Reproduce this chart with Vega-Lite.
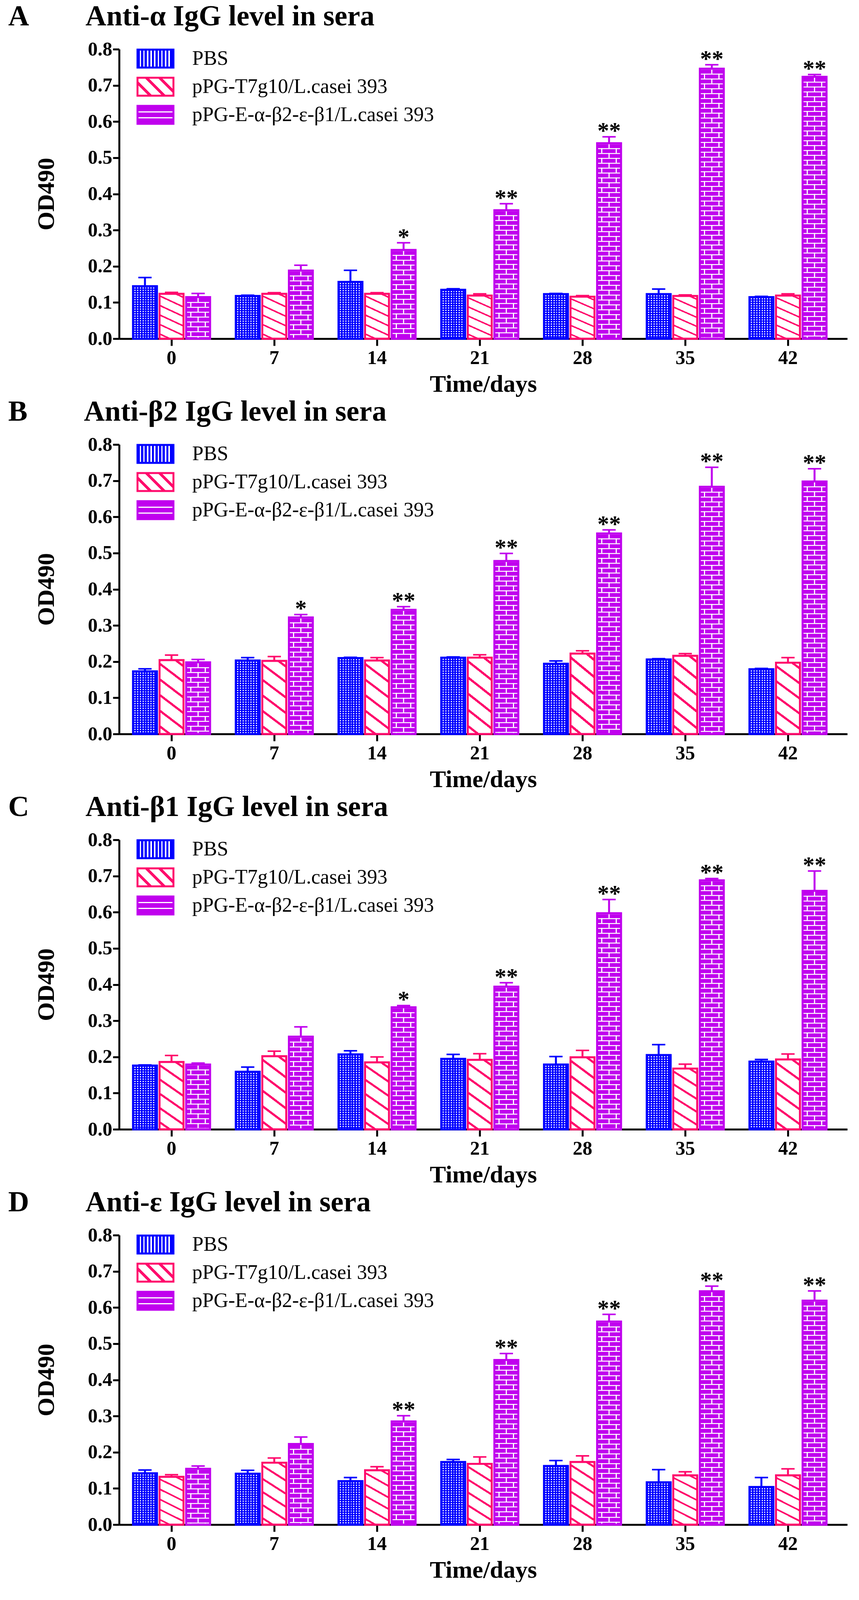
{
  "$schema": "https://vega.github.io/schema/vega-lite/v6.json",
  "background": "white",
  "padding": {"left": 21, "top": 6, "right": 10, "bottom": 0},
  "params": [
    {"name": "gBlue", "expr": "{gradient:'linear',x1:0,y1:0,x2:1,y2:0,stops:[{offset:0,color:'#0000ff'},{offset:0.063,color:'#0000ff'},{offset:0.063,color:'#ffffff'},{offset:0.111,color:'#ffffff'},{offset:0.111,color:'#0000ff'},{offset:0.174,color:'#0000ff'},{offset:0.174,color:'#ffffff'},{offset:0.222,color:'#ffffff'},{offset:0.222,color:'#0000ff'},{offset:0.285,color:'#0000ff'},{offset:0.285,color:'#ffffff'},{offset:0.333,color:'#ffffff'},{offset:0.333,color:'#0000ff'},{offset:0.396,color:'#0000ff'},{offset:0.396,color:'#ffffff'},{offset:0.444,color:'#ffffff'},{offset:0.444,color:'#0000ff'},{offset:0.507,color:'#0000ff'},{offset:0.507,color:'#ffffff'},{offset:0.555,color:'#ffffff'},{offset:0.555,color:'#0000ff'},{offset:0.618,color:'#0000ff'},{offset:0.618,color:'#ffffff'},{offset:0.666,color:'#ffffff'},{offset:0.666,color:'#0000ff'},{offset:0.729,color:'#0000ff'},{offset:0.729,color:'#ffffff'},{offset:0.777,color:'#ffffff'},{offset:0.777,color:'#0000ff'},{offset:0.84,color:'#0000ff'},{offset:0.84,color:'#ffffff'},{offset:0.888,color:'#ffffff'},{offset:0.888,color:'#0000ff'},{offset:0.951,color:'#0000ff'},{offset:0.951,color:'#ffffff'},{offset:1,color:'#ffffff'}]}"},
    {"name": "gRed", "expr": "{gradient:'linear',x1:1,y1:0,x2:0.71,y2:1.175,stops:[{offset:0,color:'#ffffff'},{offset:0.05,color:'#ffffff'},{offset:0.05,color:'#ff0a6c'},{offset:0.08,color:'#ff0a6c'},{offset:0.08,color:'#ffffff'},{offset:0.22,color:'#ffffff'},{offset:0.22,color:'#ff0a6c'},{offset:0.25,color:'#ff0a6c'},{offset:0.25,color:'#ffffff'},{offset:0.39,color:'#ffffff'},{offset:0.39,color:'#ff0a6c'},{offset:0.42,color:'#ff0a6c'},{offset:0.42,color:'#ffffff'},{offset:0.56,color:'#ffffff'},{offset:0.56,color:'#ff0a6c'},{offset:0.59,color:'#ff0a6c'},{offset:0.59,color:'#ffffff'},{offset:0.73,color:'#ffffff'},{offset:0.73,color:'#ff0a6c'},{offset:0.76,color:'#ff0a6c'},{offset:0.76,color:'#ffffff'},{offset:0.9,color:'#ffffff'},{offset:0.9,color:'#ff0a6c'},{offset:0.93,color:'#ff0a6c'},{offset:0.93,color:'#ffffff'},{offset:1,color:'#ffffff'}]}"},
    {"name": "gPurple", "expr": "{gradient:'linear',x1:0,y1:0,x2:1,y2:0,stops:[{offset:0,color:'#c000ee'},{offset:0.17,color:'#c000ee'},{offset:0.17,color:'#ffffff'},{offset:0.22,color:'#ffffff'},{offset:0.22,color:'#c000ee'},{offset:0.78,color:'#c000ee'},{offset:0.78,color:'#ffffff'},{offset:0.83,color:'#ffffff'},{offset:0.83,color:'#c000ee'},{offset:1,color:'#c000ee'}]}"},
    {"name": "gBlueL", "expr": "{gradient:'linear',x1:0,y1:0,x2:1,y2:0,stops:[{offset:0,color:'#0000ff'},{offset:0.06,color:'#0000ff'},{offset:0.06,color:'#ffffff'},{offset:0.1,color:'#ffffff'},{offset:0.1,color:'#0000ff'},{offset:0.16,color:'#0000ff'},{offset:0.16,color:'#ffffff'},{offset:0.2,color:'#ffffff'},{offset:0.2,color:'#0000ff'},{offset:0.26,color:'#0000ff'},{offset:0.26,color:'#ffffff'},{offset:0.3,color:'#ffffff'},{offset:0.3,color:'#0000ff'},{offset:0.36,color:'#0000ff'},{offset:0.36,color:'#ffffff'},{offset:0.4,color:'#ffffff'},{offset:0.4,color:'#0000ff'},{offset:0.46,color:'#0000ff'},{offset:0.46,color:'#ffffff'},{offset:0.5,color:'#ffffff'},{offset:0.5,color:'#0000ff'},{offset:0.56,color:'#0000ff'},{offset:0.56,color:'#ffffff'},{offset:0.6,color:'#ffffff'},{offset:0.6,color:'#0000ff'},{offset:0.66,color:'#0000ff'},{offset:0.66,color:'#ffffff'},{offset:0.7,color:'#ffffff'},{offset:0.7,color:'#0000ff'},{offset:0.76,color:'#0000ff'},{offset:0.76,color:'#ffffff'},{offset:0.8,color:'#ffffff'},{offset:0.8,color:'#0000ff'},{offset:0.86,color:'#0000ff'},{offset:0.86,color:'#ffffff'},{offset:0.9,color:'#ffffff'},{offset:0.9,color:'#0000ff'},{offset:1,color:'#0000ff'}]}"},
    {"name": "gRedL", "expr": "{gradient:'linear',x1:1,y1:0,x2:-0.2,y2:0.6,stops:[{offset:0,color:'#ffffff'},{offset:0.22,color:'#ffffff'},{offset:0.22,color:'#ff0a6c'},{offset:0.29,color:'#ff0a6c'},{offset:0.29,color:'#ffffff'},{offset:0.47,color:'#ffffff'},{offset:0.47,color:'#ff0a6c'},{offset:0.54,color:'#ff0a6c'},{offset:0.54,color:'#ffffff'},{offset:0.72,color:'#ffffff'},{offset:0.72,color:'#ff0a6c'},{offset:0.79,color:'#ff0a6c'},{offset:0.79,color:'#ffffff'},{offset:1,color:'#ffffff'}]}"},
    {"name": "gPurpleL", "expr": "{gradient:'linear',x1:0,y1:0,x2:0,y2:1,stops:[{offset:0,color:'#c000ee'},{offset:0.3,color:'#c000ee'},{offset:0.3,color:'#ffffff'},{offset:0.37,color:'#ffffff'},{offset:0.37,color:'#c000ee'},{offset:0.63,color:'#c000ee'},{offset:0.63,color:'#ffffff'},{offset:0.7,color:'#ffffff'},{offset:0.7,color:'#c000ee'},{offset:1,color:'#c000ee'}]}"}
  ],
  "data": {
    "values": [
      {"p": "A", "day": 0, "group": "PBS", "mean": 0.145, "upper": 0.169},
      {"p": "A", "day": 0, "group": "pPG-T7g10/L.casei 393", "mean": 0.124, "upper": 0.128},
      {"p": "A", "day": 0, "group": "pPG-E-α-β2-ε-β1/L.casei 393", "mean": 0.115, "upper": 0.125},
      {"p": "A", "day": 7, "group": "PBS", "mean": 0.118, "upper": 0.12},
      {"p": "A", "day": 7, "group": "pPG-T7g10/L.casei 393", "mean": 0.124, "upper": 0.127},
      {"p": "A", "day": 7, "group": "pPG-E-α-β2-ε-β1/L.casei 393", "mean": 0.188, "upper": 0.203},
      {"p": "A", "day": 14, "group": "PBS", "mean": 0.157, "upper": 0.189},
      {"p": "A", "day": 14, "group": "pPG-T7g10/L.casei 393", "mean": 0.124, "upper": 0.127},
      {"p": "A", "day": 14, "group": "pPG-E-α-β2-ε-β1/L.casei 393", "mean": 0.245, "upper": 0.265, "star": "*"},
      {"p": "A", "day": 21, "group": "PBS", "mean": 0.135, "upper": 0.138},
      {"p": "A", "day": 21, "group": "pPG-T7g10/L.casei 393", "mean": 0.119, "upper": 0.124},
      {"p": "A", "day": 21, "group": "pPG-E-α-β2-ε-β1/L.casei 393", "mean": 0.355, "upper": 0.373, "star": "**"},
      {"p": "A", "day": 28, "group": "PBS", "mean": 0.123, "upper": 0.125},
      {"p": "A", "day": 28, "group": "pPG-T7g10/L.casei 393", "mean": 0.116, "upper": 0.119},
      {"p": "A", "day": 28, "group": "pPG-E-α-β2-ε-β1/L.casei 393", "mean": 0.54, "upper": 0.558, "star": "**"},
      {"p": "A", "day": 35, "group": "PBS", "mean": 0.123, "upper": 0.137},
      {"p": "A", "day": 35, "group": "pPG-T7g10/L.casei 393", "mean": 0.118, "upper": 0.121},
      {"p": "A", "day": 35, "group": "pPG-E-α-β2-ε-β1/L.casei 393", "mean": 0.746, "upper": 0.757, "star": "**"},
      {"p": "A", "day": 42, "group": "PBS", "mean": 0.115, "upper": 0.117},
      {"p": "A", "day": 42, "group": "pPG-T7g10/L.casei 393", "mean": 0.119, "upper": 0.124},
      {"p": "A", "day": 42, "group": "pPG-E-α-β2-ε-β1/L.casei 393", "mean": 0.724, "upper": 0.73, "star": "**"},
      {"p": "B", "day": 0, "group": "PBS", "mean": 0.173, "upper": 0.18},
      {"p": "B", "day": 0, "group": "pPG-T7g10/L.casei 393", "mean": 0.204, "upper": 0.218},
      {"p": "B", "day": 0, "group": "pPG-E-α-β2-ε-β1/L.casei 393", "mean": 0.198, "upper": 0.206},
      {"p": "B", "day": 7, "group": "PBS", "mean": 0.203, "upper": 0.211},
      {"p": "B", "day": 7, "group": "pPG-T7g10/L.casei 393", "mean": 0.202, "upper": 0.214},
      {"p": "B", "day": 7, "group": "pPG-E-α-β2-ε-β1/L.casei 393", "mean": 0.322, "upper": 0.33, "star": "*"},
      {"p": "B", "day": 14, "group": "PBS", "mean": 0.21, "upper": 0.212},
      {"p": "B", "day": 14, "group": "pPG-T7g10/L.casei 393", "mean": 0.203, "upper": 0.211},
      {"p": "B", "day": 14, "group": "pPG-E-α-β2-ε-β1/L.casei 393", "mean": 0.343, "upper": 0.352, "star": "**"},
      {"p": "B", "day": 21, "group": "PBS", "mean": 0.211, "upper": 0.213},
      {"p": "B", "day": 21, "group": "pPG-T7g10/L.casei 393", "mean": 0.211, "upper": 0.219},
      {"p": "B", "day": 21, "group": "pPG-E-α-β2-ε-β1/L.casei 393", "mean": 0.478, "upper": 0.499, "star": "**"},
      {"p": "B", "day": 28, "group": "PBS", "mean": 0.194, "upper": 0.202},
      {"p": "B", "day": 28, "group": "pPG-T7g10/L.casei 393", "mean": 0.222, "upper": 0.23},
      {"p": "B", "day": 28, "group": "pPG-E-α-β2-ε-β1/L.casei 393", "mean": 0.554, "upper": 0.564, "star": "**"},
      {"p": "B", "day": 35, "group": "PBS", "mean": 0.206, "upper": 0.208},
      {"p": "B", "day": 35, "group": "pPG-T7g10/L.casei 393", "mean": 0.216, "upper": 0.222},
      {"p": "B", "day": 35, "group": "pPG-E-α-β2-ε-β1/L.casei 393", "mean": 0.683, "upper": 0.737, "star": "**"},
      {"p": "B", "day": 42, "group": "PBS", "mean": 0.179, "upper": 0.181},
      {"p": "B", "day": 42, "group": "pPG-T7g10/L.casei 393", "mean": 0.197, "upper": 0.211},
      {"p": "B", "day": 42, "group": "pPG-E-α-β2-ε-β1/L.casei 393", "mean": 0.698, "upper": 0.733, "star": "**"},
      {"p": "C", "day": 0, "group": "PBS", "mean": 0.176, "upper": 0.178},
      {"p": "C", "day": 0, "group": "pPG-T7g10/L.casei 393", "mean": 0.186, "upper": 0.204},
      {"p": "C", "day": 0, "group": "pPG-E-α-β2-ε-β1/L.casei 393", "mean": 0.179, "upper": 0.183},
      {"p": "C", "day": 7, "group": "PBS", "mean": 0.159, "upper": 0.172},
      {"p": "C", "day": 7, "group": "pPG-T7g10/L.casei 393", "mean": 0.202, "upper": 0.216},
      {"p": "C", "day": 7, "group": "pPG-E-α-β2-ε-β1/L.casei 393", "mean": 0.256, "upper": 0.283},
      {"p": "C", "day": 14, "group": "PBS", "mean": 0.207, "upper": 0.217},
      {"p": "C", "day": 14, "group": "pPG-T7g10/L.casei 393", "mean": 0.185, "upper": 0.2},
      {"p": "C", "day": 14, "group": "pPG-E-α-β2-ε-β1/L.casei 393", "mean": 0.337, "upper": 0.342, "star": "*"},
      {"p": "C", "day": 21, "group": "PBS", "mean": 0.195, "upper": 0.207},
      {"p": "C", "day": 21, "group": "pPG-T7g10/L.casei 393", "mean": 0.192, "upper": 0.209},
      {"p": "C", "day": 21, "group": "pPG-E-α-β2-ε-β1/L.casei 393", "mean": 0.394, "upper": 0.405, "star": "**"},
      {"p": "C", "day": 28, "group": "PBS", "mean": 0.179, "upper": 0.201},
      {"p": "C", "day": 28, "group": "pPG-T7g10/L.casei 393", "mean": 0.199, "upper": 0.218},
      {"p": "C", "day": 28, "group": "pPG-E-α-β2-ε-β1/L.casei 393", "mean": 0.597, "upper": 0.635, "star": "**"},
      {"p": "C", "day": 35, "group": "PBS", "mean": 0.205, "upper": 0.234},
      {"p": "C", "day": 35, "group": "pPG-T7g10/L.casei 393", "mean": 0.168, "upper": 0.18},
      {"p": "C", "day": 35, "group": "pPG-E-α-β2-ε-β1/L.casei 393", "mean": 0.688, "upper": 0.693, "star": "**"},
      {"p": "C", "day": 42, "group": "PBS", "mean": 0.187, "upper": 0.193},
      {"p": "C", "day": 42, "group": "pPG-T7g10/L.casei 393", "mean": 0.193, "upper": 0.208},
      {"p": "C", "day": 42, "group": "pPG-E-α-β2-ε-β1/L.casei 393", "mean": 0.659, "upper": 0.714, "star": "**"},
      {"p": "D", "day": 0, "group": "PBS", "mean": 0.142, "upper": 0.151},
      {"p": "D", "day": 0, "group": "pPG-T7g10/L.casei 393", "mean": 0.132, "upper": 0.138},
      {"p": "D", "day": 0, "group": "pPG-E-α-β2-ε-β1/L.casei 393", "mean": 0.154, "upper": 0.162},
      {"p": "D", "day": 7, "group": "PBS", "mean": 0.141, "upper": 0.15},
      {"p": "D", "day": 7, "group": "pPG-T7g10/L.casei 393", "mean": 0.171, "upper": 0.184},
      {"p": "D", "day": 7, "group": "pPG-E-α-β2-ε-β1/L.casei 393", "mean": 0.223, "upper": 0.242},
      {"p": "D", "day": 14, "group": "PBS", "mean": 0.12, "upper": 0.13},
      {"p": "D", "day": 14, "group": "pPG-T7g10/L.casei 393", "mean": 0.15, "upper": 0.16},
      {"p": "D", "day": 14, "group": "pPG-E-α-β2-ε-β1/L.casei 393", "mean": 0.285, "upper": 0.301, "star": "**"},
      {"p": "D", "day": 21, "group": "PBS", "mean": 0.173, "upper": 0.18},
      {"p": "D", "day": 21, "group": "pPG-T7g10/L.casei 393", "mean": 0.168, "upper": 0.187},
      {"p": "D", "day": 21, "group": "pPG-E-α-β2-ε-β1/L.casei 393", "mean": 0.455, "upper": 0.473, "star": "**"},
      {"p": "D", "day": 28, "group": "PBS", "mean": 0.162, "upper": 0.177},
      {"p": "D", "day": 28, "group": "pPG-T7g10/L.casei 393", "mean": 0.173, "upper": 0.19},
      {"p": "D", "day": 28, "group": "pPG-E-α-β2-ε-β1/L.casei 393", "mean": 0.561, "upper": 0.581, "star": "**"},
      {"p": "D", "day": 35, "group": "PBS", "mean": 0.117, "upper": 0.152},
      {"p": "D", "day": 35, "group": "pPG-T7g10/L.casei 393", "mean": 0.136, "upper": 0.146},
      {"p": "D", "day": 35, "group": "pPG-E-α-β2-ε-β1/L.casei 393", "mean": 0.645, "upper": 0.659, "star": "**"},
      {"p": "D", "day": 42, "group": "PBS", "mean": 0.104, "upper": 0.13},
      {"p": "D", "day": 42, "group": "pPG-T7g10/L.casei 393", "mean": 0.136, "upper": 0.154},
      {"p": "D", "day": 42, "group": "pPG-E-α-β2-ε-β1/L.casei 393", "mean": 0.619, "upper": 0.646, "star": "**"}
    ]
  },
  "spacing": 4,
  "vconcat": [
    {
      "title": {"text": "A\u00a0\u00a0\u00a0\u00a0\u00a0\u00a0\u00a0\u2009Anti-α IgG level in sera"},
      "width": 1864, "height": 741,
      "transform": [{"filter": "datum.p === 'A'"}],
      "encoding": {
        "x": {"field": "day", "type": "ordinal", "title": "Time/days", "scale": {"paddingInner": 0.25, "paddingOuter": 0.1686, "align": 0.4}},
        "xOffset": {"field": "group", "type": "nominal", "scale": {"domain": ["PBS", "pPG-T7g10/L.casei 393", "pPG-E-α-β2-ε-β1/L.casei 393"], "paddingInner": 0.1, "paddingOuter": 0}}
      },
      "layer": [
        {"mark": {"type": "bar", "strokeWidth": 5},
         "encoding": {
           "y": {"field": "mean", "type": "quantitative", "title": "OD490", "scale": {"domain": [0, 0.8], "nice": false}, "axis": {"values": [0, 0.1, 0.2, 0.3, 0.4, 0.5, 0.6, 0.7, 0.8], "format": ".1f"}},
           "fill": {"field": "group", "type": "nominal", "scale": {"domain": ["PBS", "pPG-T7g10/L.casei 393", "pPG-E-α-β2-ε-β1/L.casei 393"], "range": [{"expr": "gBlueL"}, {"expr": "gRedL"}, {"expr": "gPurpleL"}]}, "legend": {"orient": "none", "legendX": 67, "legendY": -2, "title": null, "symbolType": "M-2,-1H2V1H-2Z"}},
           "stroke": {"field": "group", "type": "nominal", "scale": {"domain": ["PBS", "pPG-T7g10/L.casei 393", "pPG-E-α-β2-ε-β1/L.casei 393"], "range": ["#0000ff", "#ff0a6c", "#c000ee"]}, "legend": {"orient": "none", "legendX": 67, "legendY": -2, "title": null, "symbolType": "M-2,-1H2V1H-2Z"}}
         }},
        {"mark": {"type": "bar"}, "encoding": {"y": {"field": "mean", "type": "quantitative", "title": "OD490"}, "color": {"field": "group", "type": "nominal", "scale": {"domain": ["PBS", "pPG-T7g10/L.casei 393", "pPG-E-α-β2-ε-β1/L.casei 393"], "range": [{"expr": "gBlue"}, {"expr": "gRed"}, {"expr": "gPurple"}]}, "legend": null}}},
        {"transform": [{"filter": "datum.group === 'PBS'"}], "mark": {"type": "rule", "color": "#0000ff", "strokeWidth": 58, "strokeDash": [3, 3]}, "encoding": {"y": {"field": "mean", "type": "quantitative", "title": "OD490"}, "y2": {"datum": 0}}},
        {"transform": [{"filter": "datum.group === 'pPG-E-α-β2-ε-β1/L.casei 393'"}], "mark": {"type": "rule", "color": "#c000ee", "strokeWidth": 58, "strokeDash": [12.5, 12.5]}, "encoding": {"y": {"field": "mean", "type": "quantitative", "title": "OD490"}, "y2": {"datum": 0}}},
        {"transform": [{"filter": "datum.group === 'pPG-E-α-β2-ε-β1/L.casei 393'"}], "mark": {"type": "rule", "color": "#ffffff", "strokeWidth": 3, "strokeDash": [12.5, 12.5]}, "encoding": {"y": {"field": "mean", "type": "quantitative", "title": "OD490"}, "y2": {"datum": 0}}},
        {"transform": [{"filter": "datum.group === 'pPG-E-α-β2-ε-β1/L.casei 393'"}], "mark": {"type": "rule", "color": "#ffffff", "strokeWidth": 58, "strokeDash": [2.5, 10]}, "encoding": {"y": {"field": "mean", "type": "quantitative", "title": "OD490"}, "y2": {"datum": 0}}},
        {"mark": {"type": "bar", "filled": false, "strokeWidth": 5}, "encoding": {"y": {"field": "mean", "type": "quantitative", "title": "OD490"}, "stroke": {"field": "group", "type": "nominal", "legend": null}}},
        {"mark": {"type": "rule", "strokeWidth": 5}, "encoding": {"y": {"field": "mean", "type": "quantitative", "title": "OD490"}, "y2": {"field": "upper"}, "stroke": {"field": "group", "type": "nominal", "legend": null}}},
        {"mark": {"type": "tick", "orient": "horizontal", "size": 34, "thickness": 4, "opacity": 1}, "encoding": {"y": {"field": "upper", "type": "quantitative", "title": "OD490"}, "fill": {"condition": [{"test": "datum.group === 'PBS'", "value": "#0000ff"}, {"test": "datum.group === 'pPG-T7g10/L.casei 393'", "value": "#ff0a6c"}], "value": "#c000ee"}}},
        {"transform": [{"filter": "datum.star"}], "mark": {"type": "text", "fontSize": 60, "fontWeight": "bold", "baseline": "alphabetic", "dy": 4, "color": "black"}, "encoding": {"y": {"field": "upper", "type": "quantitative", "title": "OD490"}, "text": {"field": "star"}}}
      ]
    },
    {
      "title": {"text": "B\u00a0\u00a0\u00a0\u00a0\u00a0\u00a0\u00a0\u2009Anti-β2 IgG level in sera"},
      "width": 1864, "height": 741,
      "transform": [{"filter": "datum.p === 'B'"}],
      "encoding": {
        "x": {"field": "day", "type": "ordinal", "title": "Time/days", "scale": {"paddingInner": 0.25, "paddingOuter": 0.1686, "align": 0.4}},
        "xOffset": {"field": "group", "type": "nominal", "scale": {"domain": ["PBS", "pPG-T7g10/L.casei 393", "pPG-E-α-β2-ε-β1/L.casei 393"], "paddingInner": 0.1, "paddingOuter": 0}}
      },
      "layer": [
        {"mark": {"type": "bar", "strokeWidth": 5},
         "encoding": {
           "y": {"field": "mean", "type": "quantitative", "title": "OD490", "scale": {"domain": [0, 0.8], "nice": false}, "axis": {"values": [0, 0.1, 0.2, 0.3, 0.4, 0.5, 0.6, 0.7, 0.8], "format": ".1f"}},
           "fill": {"field": "group", "type": "nominal", "scale": {"domain": ["PBS", "pPG-T7g10/L.casei 393", "pPG-E-α-β2-ε-β1/L.casei 393"], "range": [{"expr": "gBlueL"}, {"expr": "gRedL"}, {"expr": "gPurpleL"}]}, "legend": {"orient": "none", "legendX": 67, "legendY": -2, "title": null, "symbolType": "M-2,-1H2V1H-2Z"}},
           "stroke": {"field": "group", "type": "nominal", "scale": {"domain": ["PBS", "pPG-T7g10/L.casei 393", "pPG-E-α-β2-ε-β1/L.casei 393"], "range": ["#0000ff", "#ff0a6c", "#c000ee"]}, "legend": {"orient": "none", "legendX": 67, "legendY": -2, "title": null, "symbolType": "M-2,-1H2V1H-2Z"}}
         }},
        {"mark": {"type": "bar"}, "encoding": {"y": {"field": "mean", "type": "quantitative", "title": "OD490"}, "color": {"field": "group", "type": "nominal", "scale": {"domain": ["PBS", "pPG-T7g10/L.casei 393", "pPG-E-α-β2-ε-β1/L.casei 393"], "range": [{"expr": "gBlue"}, {"expr": "gRed"}, {"expr": "gPurple"}]}, "legend": null}}},
        {"transform": [{"filter": "datum.group === 'PBS'"}], "mark": {"type": "rule", "color": "#0000ff", "strokeWidth": 58, "strokeDash": [3, 3]}, "encoding": {"y": {"field": "mean", "type": "quantitative", "title": "OD490"}, "y2": {"datum": 0}}},
        {"transform": [{"filter": "datum.group === 'pPG-E-α-β2-ε-β1/L.casei 393'"}], "mark": {"type": "rule", "color": "#c000ee", "strokeWidth": 58, "strokeDash": [12.5, 12.5]}, "encoding": {"y": {"field": "mean", "type": "quantitative", "title": "OD490"}, "y2": {"datum": 0}}},
        {"transform": [{"filter": "datum.group === 'pPG-E-α-β2-ε-β1/L.casei 393'"}], "mark": {"type": "rule", "color": "#ffffff", "strokeWidth": 3, "strokeDash": [12.5, 12.5]}, "encoding": {"y": {"field": "mean", "type": "quantitative", "title": "OD490"}, "y2": {"datum": 0}}},
        {"transform": [{"filter": "datum.group === 'pPG-E-α-β2-ε-β1/L.casei 393'"}], "mark": {"type": "rule", "color": "#ffffff", "strokeWidth": 58, "strokeDash": [2.5, 10]}, "encoding": {"y": {"field": "mean", "type": "quantitative", "title": "OD490"}, "y2": {"datum": 0}}},
        {"mark": {"type": "bar", "filled": false, "strokeWidth": 5}, "encoding": {"y": {"field": "mean", "type": "quantitative", "title": "OD490"}, "stroke": {"field": "group", "type": "nominal", "legend": null}}},
        {"mark": {"type": "rule", "strokeWidth": 5}, "encoding": {"y": {"field": "mean", "type": "quantitative", "title": "OD490"}, "y2": {"field": "upper"}, "stroke": {"field": "group", "type": "nominal", "legend": null}}},
        {"mark": {"type": "tick", "orient": "horizontal", "size": 34, "thickness": 4, "opacity": 1}, "encoding": {"y": {"field": "upper", "type": "quantitative", "title": "OD490"}, "fill": {"condition": [{"test": "datum.group === 'PBS'", "value": "#0000ff"}, {"test": "datum.group === 'pPG-T7g10/L.casei 393'", "value": "#ff0a6c"}], "value": "#c000ee"}}},
        {"transform": [{"filter": "datum.star"}], "mark": {"type": "text", "fontSize": 60, "fontWeight": "bold", "baseline": "alphabetic", "dy": 4, "color": "black"}, "encoding": {"y": {"field": "upper", "type": "quantitative", "title": "OD490"}, "text": {"field": "star"}}}
      ]
    },
    {
      "title": {"text": "C\u00a0\u00a0\u00a0\u00a0\u00a0\u00a0\u00a0\u2009Anti-β1 IgG level in sera"},
      "width": 1864, "height": 741,
      "transform": [{"filter": "datum.p === 'C'"}],
      "encoding": {
        "x": {"field": "day", "type": "ordinal", "title": "Time/days", "scale": {"paddingInner": 0.25, "paddingOuter": 0.1686, "align": 0.4}},
        "xOffset": {"field": "group", "type": "nominal", "scale": {"domain": ["PBS", "pPG-T7g10/L.casei 393", "pPG-E-α-β2-ε-β1/L.casei 393"], "paddingInner": 0.1, "paddingOuter": 0}}
      },
      "layer": [
        {"mark": {"type": "bar", "strokeWidth": 5},
         "encoding": {
           "y": {"field": "mean", "type": "quantitative", "title": "OD490", "scale": {"domain": [0, 0.8], "nice": false}, "axis": {"values": [0, 0.1, 0.2, 0.3, 0.4, 0.5, 0.6, 0.7, 0.8], "format": ".1f"}},
           "fill": {"field": "group", "type": "nominal", "scale": {"domain": ["PBS", "pPG-T7g10/L.casei 393", "pPG-E-α-β2-ε-β1/L.casei 393"], "range": [{"expr": "gBlueL"}, {"expr": "gRedL"}, {"expr": "gPurpleL"}]}, "legend": {"orient": "none", "legendX": 67, "legendY": -2, "title": null, "symbolType": "M-2,-1H2V1H-2Z"}},
           "stroke": {"field": "group", "type": "nominal", "scale": {"domain": ["PBS", "pPG-T7g10/L.casei 393", "pPG-E-α-β2-ε-β1/L.casei 393"], "range": ["#0000ff", "#ff0a6c", "#c000ee"]}, "legend": {"orient": "none", "legendX": 67, "legendY": -2, "title": null, "symbolType": "M-2,-1H2V1H-2Z"}}
         }},
        {"mark": {"type": "bar"}, "encoding": {"y": {"field": "mean", "type": "quantitative", "title": "OD490"}, "color": {"field": "group", "type": "nominal", "scale": {"domain": ["PBS", "pPG-T7g10/L.casei 393", "pPG-E-α-β2-ε-β1/L.casei 393"], "range": [{"expr": "gBlue"}, {"expr": "gRed"}, {"expr": "gPurple"}]}, "legend": null}}},
        {"transform": [{"filter": "datum.group === 'PBS'"}], "mark": {"type": "rule", "color": "#0000ff", "strokeWidth": 58, "strokeDash": [3, 3]}, "encoding": {"y": {"field": "mean", "type": "quantitative", "title": "OD490"}, "y2": {"datum": 0}}},
        {"transform": [{"filter": "datum.group === 'pPG-E-α-β2-ε-β1/L.casei 393'"}], "mark": {"type": "rule", "color": "#c000ee", "strokeWidth": 58, "strokeDash": [12.5, 12.5]}, "encoding": {"y": {"field": "mean", "type": "quantitative", "title": "OD490"}, "y2": {"datum": 0}}},
        {"transform": [{"filter": "datum.group === 'pPG-E-α-β2-ε-β1/L.casei 393'"}], "mark": {"type": "rule", "color": "#ffffff", "strokeWidth": 3, "strokeDash": [12.5, 12.5]}, "encoding": {"y": {"field": "mean", "type": "quantitative", "title": "OD490"}, "y2": {"datum": 0}}},
        {"transform": [{"filter": "datum.group === 'pPG-E-α-β2-ε-β1/L.casei 393'"}], "mark": {"type": "rule", "color": "#ffffff", "strokeWidth": 58, "strokeDash": [2.5, 10]}, "encoding": {"y": {"field": "mean", "type": "quantitative", "title": "OD490"}, "y2": {"datum": 0}}},
        {"mark": {"type": "bar", "filled": false, "strokeWidth": 5}, "encoding": {"y": {"field": "mean", "type": "quantitative", "title": "OD490"}, "stroke": {"field": "group", "type": "nominal", "legend": null}}},
        {"mark": {"type": "rule", "strokeWidth": 5}, "encoding": {"y": {"field": "mean", "type": "quantitative", "title": "OD490"}, "y2": {"field": "upper"}, "stroke": {"field": "group", "type": "nominal", "legend": null}}},
        {"mark": {"type": "tick", "orient": "horizontal", "size": 34, "thickness": 4, "opacity": 1}, "encoding": {"y": {"field": "upper", "type": "quantitative", "title": "OD490"}, "fill": {"condition": [{"test": "datum.group === 'PBS'", "value": "#0000ff"}, {"test": "datum.group === 'pPG-T7g10/L.casei 393'", "value": "#ff0a6c"}], "value": "#c000ee"}}},
        {"transform": [{"filter": "datum.star"}], "mark": {"type": "text", "fontSize": 60, "fontWeight": "bold", "baseline": "alphabetic", "dy": 4, "color": "black"}, "encoding": {"y": {"field": "upper", "type": "quantitative", "title": "OD490"}, "text": {"field": "star"}}}
      ]
    },
    {
      "title": {"text": "D\u00a0\u00a0\u00a0\u00a0\u00a0\u00a0\u00a0\u2009Anti-ε IgG level in sera"},
      "width": 1864, "height": 741,
      "transform": [{"filter": "datum.p === 'D'"}],
      "encoding": {
        "x": {"field": "day", "type": "ordinal", "title": "Time/days", "scale": {"paddingInner": 0.25, "paddingOuter": 0.1686, "align": 0.4}},
        "xOffset": {"field": "group", "type": "nominal", "scale": {"domain": ["PBS", "pPG-T7g10/L.casei 393", "pPG-E-α-β2-ε-β1/L.casei 393"], "paddingInner": 0.1, "paddingOuter": 0}}
      },
      "layer": [
        {"mark": {"type": "bar", "strokeWidth": 5},
         "encoding": {
           "y": {"field": "mean", "type": "quantitative", "title": "OD490", "scale": {"domain": [0, 0.8], "nice": false}, "axis": {"values": [0, 0.1, 0.2, 0.3, 0.4, 0.5, 0.6, 0.7, 0.8], "format": ".1f"}},
           "fill": {"field": "group", "type": "nominal", "scale": {"domain": ["PBS", "pPG-T7g10/L.casei 393", "pPG-E-α-β2-ε-β1/L.casei 393"], "range": [{"expr": "gBlueL"}, {"expr": "gRedL"}, {"expr": "gPurpleL"}]}, "legend": {"orient": "none", "legendX": 67, "legendY": -2, "title": null, "symbolType": "M-2,-1H2V1H-2Z"}},
           "stroke": {"field": "group", "type": "nominal", "scale": {"domain": ["PBS", "pPG-T7g10/L.casei 393", "pPG-E-α-β2-ε-β1/L.casei 393"], "range": ["#0000ff", "#ff0a6c", "#c000ee"]}, "legend": {"orient": "none", "legendX": 67, "legendY": -2, "title": null, "symbolType": "M-2,-1H2V1H-2Z"}}
         }},
        {"mark": {"type": "bar"}, "encoding": {"y": {"field": "mean", "type": "quantitative", "title": "OD490"}, "color": {"field": "group", "type": "nominal", "scale": {"domain": ["PBS", "pPG-T7g10/L.casei 393", "pPG-E-α-β2-ε-β1/L.casei 393"], "range": [{"expr": "gBlue"}, {"expr": "gRed"}, {"expr": "gPurple"}]}, "legend": null}}},
        {"transform": [{"filter": "datum.group === 'PBS'"}], "mark": {"type": "rule", "color": "#0000ff", "strokeWidth": 58, "strokeDash": [3, 3]}, "encoding": {"y": {"field": "mean", "type": "quantitative", "title": "OD490"}, "y2": {"datum": 0}}},
        {"transform": [{"filter": "datum.group === 'pPG-E-α-β2-ε-β1/L.casei 393'"}], "mark": {"type": "rule", "color": "#c000ee", "strokeWidth": 58, "strokeDash": [12.5, 12.5]}, "encoding": {"y": {"field": "mean", "type": "quantitative", "title": "OD490"}, "y2": {"datum": 0}}},
        {"transform": [{"filter": "datum.group === 'pPG-E-α-β2-ε-β1/L.casei 393'"}], "mark": {"type": "rule", "color": "#ffffff", "strokeWidth": 3, "strokeDash": [12.5, 12.5]}, "encoding": {"y": {"field": "mean", "type": "quantitative", "title": "OD490"}, "y2": {"datum": 0}}},
        {"transform": [{"filter": "datum.group === 'pPG-E-α-β2-ε-β1/L.casei 393'"}], "mark": {"type": "rule", "color": "#ffffff", "strokeWidth": 58, "strokeDash": [2.5, 10]}, "encoding": {"y": {"field": "mean", "type": "quantitative", "title": "OD490"}, "y2": {"datum": 0}}},
        {"mark": {"type": "bar", "filled": false, "strokeWidth": 5}, "encoding": {"y": {"field": "mean", "type": "quantitative", "title": "OD490"}, "stroke": {"field": "group", "type": "nominal", "legend": null}}},
        {"mark": {"type": "rule", "strokeWidth": 5}, "encoding": {"y": {"field": "mean", "type": "quantitative", "title": "OD490"}, "y2": {"field": "upper"}, "stroke": {"field": "group", "type": "nominal", "legend": null}}},
        {"mark": {"type": "tick", "orient": "horizontal", "size": 34, "thickness": 4, "opacity": 1}, "encoding": {"y": {"field": "upper", "type": "quantitative", "title": "OD490"}, "fill": {"condition": [{"test": "datum.group === 'PBS'", "value": "#0000ff"}, {"test": "datum.group === 'pPG-T7g10/L.casei 393'", "value": "#ff0a6c"}], "value": "#c000ee"}}},
        {"transform": [{"filter": "datum.star"}], "mark": {"type": "text", "fontSize": 60, "fontWeight": "bold", "baseline": "alphabetic", "dy": 4, "color": "black"}, "encoding": {"y": {"field": "upper", "type": "quantitative", "title": "OD490"}, "text": {"field": "star"}}}
      ]
    }
  ],
  "resolve": {
    "scale": {"fill": "independent", "stroke": "independent", "color": "independent"},
    "legend": {"fill": "independent", "stroke": "independent"}
  },
  "config": {
    "font": "Liberation Serif",
    "view": {"stroke": null},
    "title": {"font": "Liberation Serif", "fontWeight": "bold", "fontSize": 74, "anchor": "start", "frame": "group", "dx": -284, "offset": 20, "color": "black", "baseline": "alphabetic"},
    "axis": {"grid": false, "domainColor": "black", "domainWidth": 5, "tickColor": "black", "tickWidth": 5, "labelFont": "Liberation Serif", "labelFontWeight": "bold", "labelFontSize": 50, "labelColor": "black", "titleFont": "Liberation Serif", "titleFontWeight": "bold", "titleFontSize": 62, "titleColor": "black"},
    "axisX": {"tickSize": 18, "labelPadding": 6, "titlePadding": 12, "labelAngle": 0},
    "axisY": {"tickSize": 16, "labelPadding": 2, "titlePadding": 74},
    "legend": {"symbolSize": 2116, "symbolStrokeWidth": 5, "labelFont": "Liberation Serif", "labelFontSize": 52, "labelColor": "black", "labelOffset": 68, "rowPadding": 6, "padding": 0, "labelLimit": 1200, "symbolOpacity": 1}
  }
}
